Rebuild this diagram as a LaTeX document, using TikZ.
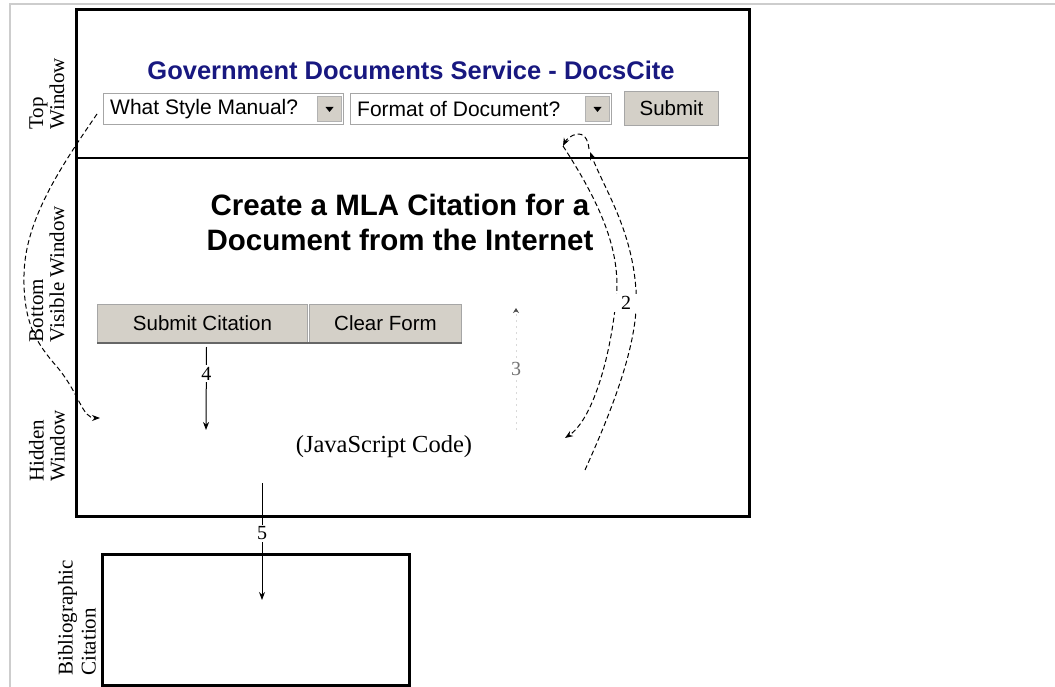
\documentclass[tikz,border=0pt]{standalone}
\usepackage{fontspec}
\setmainfont{Liberation Serif}
\setsansfont{Liberation Sans}
\usetikzlibrary{arrows.meta, positioning, calc}
\definecolor{docblue}{RGB}{24, 24, 128}
\definecolor{wingray}{RGB}{212, 208, 200}
\definecolor{framegray}{RGB}{205, 205, 205}

\tikzset{
  winbox/.style={draw=black, line width=3pt, inner sep=0pt},
  uibutton/.style={draw=gray!70, fill=wingray, line width=1pt, inner sep=0pt,
    font=\sffamily\fontsize{20.5}{22}\selectfont},
  dropfield/.style={draw=gray!70, fill=white, line width=1pt, inner sep=0pt},
  dropbtn/.style={draw=gray!60, fill=wingray, line width=1pt, inner sep=0pt,
    minimum width=24pt, minimum height=25pt},
  droptext/.style={font=\sffamily\fontsize{21}{22}\selectfont, inner sep=0pt},
  sidelabel/.style={rotate=90, align=left, font=\fontsize{21}{21}\selectfont, inner sep=0pt},
  steplabel/.style={font=\fontsize{20}{20}\selectfont, fill=white, inner sep=2pt},
  flowline/.style={line width=1pt, -{Stealth[length=8pt,width=6pt]}},
  dashflow/.style={flowline, dash pattern=on 5pt off 3pt}
}

\begin{document}
\begin{tikzpicture}[x=1pt, y=-1pt]
  \useasboundingbox (0,0) rectangle (1055,687);
  \fill[white] (0,0) rectangle (1055,687);
  \draw[framegray, line width=1.5pt] (10,687) -- (10,4) -- (1055,4);

  % browser window with its two frames
  \node[winbox, minimum width=673pt, minimum height=507pt, anchor=north west] (mainwin) at (75,8) {};
  \draw[line width=1.5pt] (75,158) -- (748,158);

  % top frame
  \node[font=\sffamily\bfseries\fontsize{25.5}{28}\selectfont, text=docblue] (title) at (411,70)
    {Government Documents Service - DocsCite};

  \node[dropfield, minimum width=240pt, minimum height=31pt, anchor=north west] (stylemenu) at (103,93) {};
  \node[droptext, anchor=west] at ($(stylemenu.west)+(7pt,0)$) {What Style Manual?};
  \node[dropbtn, anchor=east] (stylebtn) at ($(stylemenu.east)+(-2pt,0)$) {};
  \fill ($(stylebtn.center)+(-4pt,2pt)$) -- ++(8pt,0) -- ++(-4pt,-5pt) -- cycle;

  \node[dropfield, minimum width=261pt, minimum height=31pt, anchor=north west] (formatmenu) at (350,93) {};
  \node[droptext, anchor=west] at ($(formatmenu.west)+(7pt,0)$) {Format of Document?};
  \node[dropbtn, anchor=east] (formatbtn) at ($(formatmenu.east)+(-2pt,0)$) {};
  \fill ($(formatbtn.center)+(-4pt,2pt)$) -- ++(8pt,0) -- ++(-4pt,-5pt) -- cycle;

  \node[uibutton, minimum width=94pt, minimum height=34pt, anchor=north west] (submitbtn) at (624,91) {Submit};

  % bottom frame
  \node[font=\sffamily\bfseries\fontsize{29.5}{35}\selectfont, align=center] (heading) at (400,222)
    {Create a MLA Citation for a\\Document from the Internet};

  \node[uibutton, minimum width=210pt, minimum height=38pt, anchor=north west] (citebtn) at (97,304) {Submit Citation};
  \node[uibutton, minimum width=152pt, minimum height=38pt, anchor=north west] (clearbtn) at (309,304) {Clear Form};
  \draw[gray!80!black, line width=1.5pt] (citebtn.south west) -- (clearbtn.south east);

  \node[font=\fontsize{24.5}{26}\selectfont] (jscode) at (384,447) {(JavaScript Code)};

  % citation window
  \node[winbox, minimum width=307pt, minimum height=131pt, anchor=north west] (bibbox) at (101,553) {};

  % side labels
  \node[sidelabel] (toplbl) at (47,94) {Top\\Window};
  \node[sidelabel] (botlbl) at (47,274) {Bottom\\Visible Window};
  \node[sidelabel] (hidlbl) at (47,446) {Hidden\\Window};
  \node[sidelabel, font=\fontsize{21}{23}\selectfont] (biblbl) at (77,618) {Bibliographic\\Citation};

  % connectors
  \coordinate (hidin) at (100,418);
  \coordinate (hid4) at (206,430);
  \coordinate (hid3) at (516,430);
  \coordinate (up3) at (516,308);
  \coordinate (hidret) at (565,438);
  \coordinate (hidsend) at (585,470);
  \coordinate (srvin) at (590,152);
  \coordinate (srvout) at (563,146);
  \coordinate (hid5) at (262,483);
  \coordinate (bibin) at (262,600);

  \draw[dashflow] ($(stylemenu.west)+(-6pt,-5pt)$) .. controls (60,168) and (25,220) .. (24,275)
    .. controls (23,325) and (38,345) .. (58,368) .. controls (80,395) and (82,418) .. (hidin);

  \draw[dashflow] (hidsend) .. controls (612,410) and (640,340) .. (636,290)
    .. controls (632,230) and (605,190) .. (srvin);
  \draw[dashflow] ($(srvin)+(-1pt,3pt)$) .. controls (588,138) and (583,133) .. (577,134)
    .. controls (571,135) and (566,140) .. (srvout);
  \draw[dashflow] (srvout) .. controls (598,200) and (622,250) .. (616,300)
    .. controls (610,360) and (592,420) .. (hidret);
  \node[steplabel, minimum width=32pt] (lbl2) at (626,303) {2};

  \draw[flowline, draw=black!15, dash pattern=on 2pt off 4pt, -{Stealth[length=5pt,width=6pt,black!70]}]
    (hid3) -- node[steplabel, text=black!55] (lbl3) {3} (up3);

  \draw[flowline] ($(citebtn.south)+(4pt,-4pt)$) -- node[steplabel, pos=0.32] (lbl4) {4} (hid4);
  \draw[flowline] (hid5) -- node[steplabel, pos=0.43] (lbl5) {5} (bibin);
\end{tikzpicture}
\end{document}
